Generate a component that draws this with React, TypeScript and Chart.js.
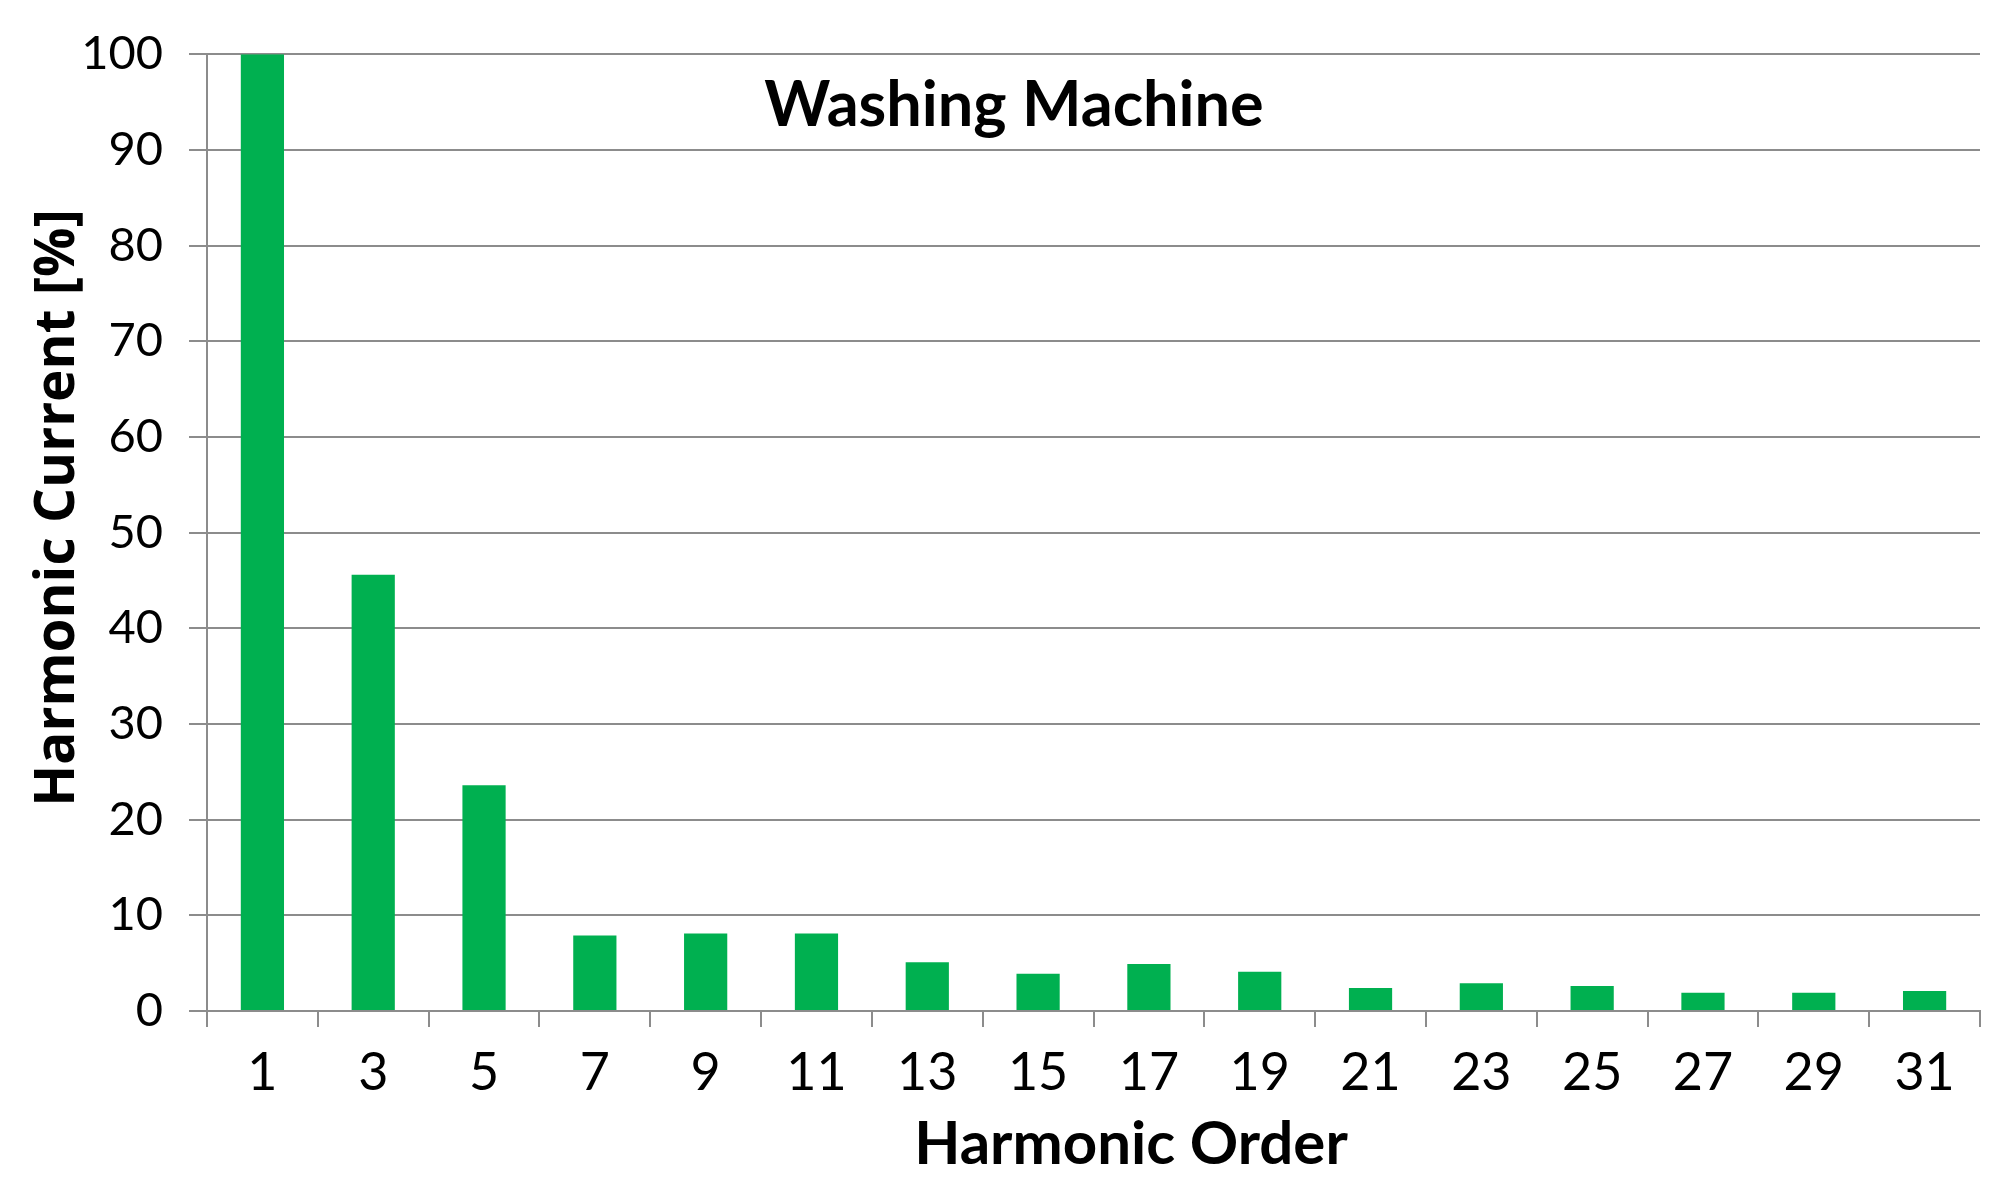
import React, { useEffect, useRef } from "react";
import { Chart, registerables } from "chart.js";

Chart.register(...registerables);

const harmonicOrders = ["1", "3", "5", "7", "9", "11", "13", "15", "17", "19", "21", "23", "25", "27", "29", "31"];
const harmonicCurrent = [100, 45.6, 23.6, 7.9, 8.1, 8.1, 5.1, 3.9, 4.9, 4.1, 2.4, 2.9, 2.6, 1.9, 1.9, 2.1];
const chartTitle = "Washing Machine";
const xTitle = "Harmonic Order";
const yTitle = "Harmonic Current [%]";

const GRID = "#8c8c8c";
const BAR = "#00B050";

const titlesPlugin = {
  id: "customTitles",
  afterDraw(chart: any) {
    const { ctx } = chart;
    ctx.save();
    ctx.fillStyle = "#000";
    ctx.textAlign = "center";
    ctx.textBaseline = "alphabetic";
    ctx.font = "bold 63px Lato";
    ctx.fillText(chartTitle, 1014, 126);
    ctx.font = "bold 60px Lato";
    ctx.fillText(xTitle, 1131, 1164);
    ctx.translate(58, 508);
    ctx.rotate(-Math.PI / 2);
    ctx.textBaseline = "middle";
    ctx.font = "bold 55px 'Open Sans'";
    ctx.fillText(yTitle, 0, 0);
    ctx.restore();
  },
};

export default function App() {
  const ref = useRef<HTMLCanvasElement | null>(null);
  useEffect(() => {
    if (!ref.current) return;
    const chart = new Chart(ref.current, {
      type: "bar",
      data: {
        labels: harmonicOrders,
        datasets: [
          {
            data: harmonicCurrent,
            backgroundColor: BAR,
            borderWidth: 0,
            barPercentage: 0.39,
            categoryPercentage: 1,
          },
        ],
      },
      options: {
        responsive: false,
        animation: false,
        layout: { padding: { top: 53, right: 28, bottom: 0, left: 0 } },
        plugins: { legend: { display: false }, tooltip: { enabled: false }, title: { display: false } },
        scales: {
          x: {
            afterFit: (s: any) => { s.height = 181; },
            grid: { display: true, drawOnChartArea: false, drawTicks: true, tickLength: 16, color: GRID, lineWidth: 2, offset: true },
            border: { display: true, color: GRID, width: 2 },
            ticks: { color: "#000", font: { family: "Lato", size: 52 }, padding: 15, maxRotation: 0 },
          },
          y: {
            min: 0,
            max: 100,
            afterFit: (s: any) => { s.width = 207; },
            grid: { color: GRID, lineWidth: 2, tickLength: 18, drawTicks: true },
            border: { display: true, color: GRID, width: 2 },
            ticks: { stepSize: 10, color: "#000", font: { family: "Lato", size: 47 }, padding: 26 },
          },
        },
      },
      plugins: [titlesPlugin],
    });
    return () => chart.destroy();
  }, []);
  return (
    <div style={{ position: "fixed", left: 0, top: 0, width: 2008, height: 1192, background: "#fff" }}>
      <canvas ref={ref} width={2008} height={1192} style={{ display: "block" }} />
    </div>
  );
}
